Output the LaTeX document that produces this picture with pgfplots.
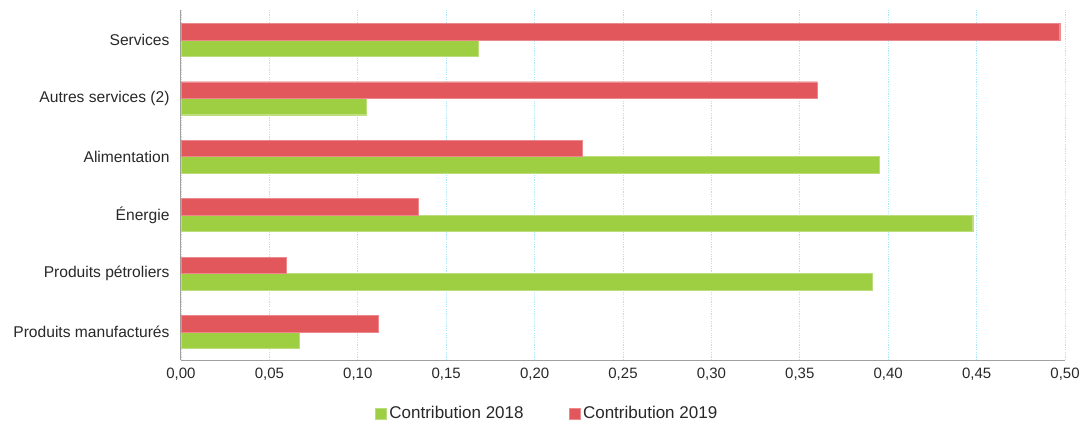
\documentclass[border=0pt]{standalone}
\usepackage{pgfplots}
\pgfplotsset{compat=1.18}
\usepackage{fontspec}
\setmainfont{Liberation Sans}
\definecolor{cgreen}{RGB}{158,206,66}
\definecolor{cred}{RGB}{226,87,92}
\definecolor{cgrid}{RGB}{170,232,248}
\definecolor{ctext}{RGB}{40,40,40}
\definecolor{caxis}{RGB}{160,160,160}
\begin{document}
\begin{tikzpicture}
\path[use as bounding box] (-181bp,-61bp) rectangle (901bp,360bp);
\begin{axis}[
  at={(0,0)}, anchor=south west,
  scale only axis,
  width=884bp, height=350bp,
  xbar, bar width=16.5bp,
  xmin=0, xmax=0.5,
  ymin=-0.48, ymax=5.51,
  xtick={0,0.05,...,0.5},
  ytick={0,1,2,3,4,5},
  yticklabels={Produits manufacturés,Produits pétroliers,Énergie,Alimentation,Autres services (2),Services},
  x tick label style={/pgf/number format/fixed, /pgf/number format/fixed zerofill, /pgf/number format/precision=2, /pgf/number format/use comma, /pgf/number format/assume math mode=true, /tikz/yshift=-5bp, /tikz/font=\fontsize{15bp}{17bp}\selectfont},
  scaled x ticks=false,
  tick label style={text=ctext},
  y tick label style={xshift=-8bp, font=\fontsize{15.6bp}{17bp}\selectfont},
  major tick length=0pt,
  xmajorgrids,
  grid style={cgrid, dash pattern=on 1.2pt off 1.2pt, line width=0.9pt},
  axis x line*=bottom,
  axis y line*=left,
  axis line style={caxis, line width=1pt, -},
  legend style={at={(0.2195,-0.153)}, anchor=west, draw=none, legend columns=2,
    inner sep=0pt, outer sep=0pt,
    font=\fontsize{17bp}{19bp}\selectfont, text=ctext,
    nodes={inner sep=3bp},
    /tikz/every even column/.append style={column sep=42bp}},
  legend image code/.code={\fill[#1] (0bp,-5.5bp) rectangle (11bp,5.5bp);},
]
\addplot[fill=cgreen, draw=cgreen!70!white, bar shift=-8.25bp] coordinates {
 (0.0667,0) (0.3907,1) (0.4478,2) (0.395,3) (0.105,4) (0.168,5)};
\addplot[fill=cred, draw=cred!70!white, bar shift=8.25bp] coordinates {
 (0.1113,0) (0.0594,1) (0.1344,2) (0.227,3) (0.360,4) (0.497,5)};
\legend{Contribution 2018, Contribution 2019}
\end{axis}
\end{tikzpicture}
\end{document}
